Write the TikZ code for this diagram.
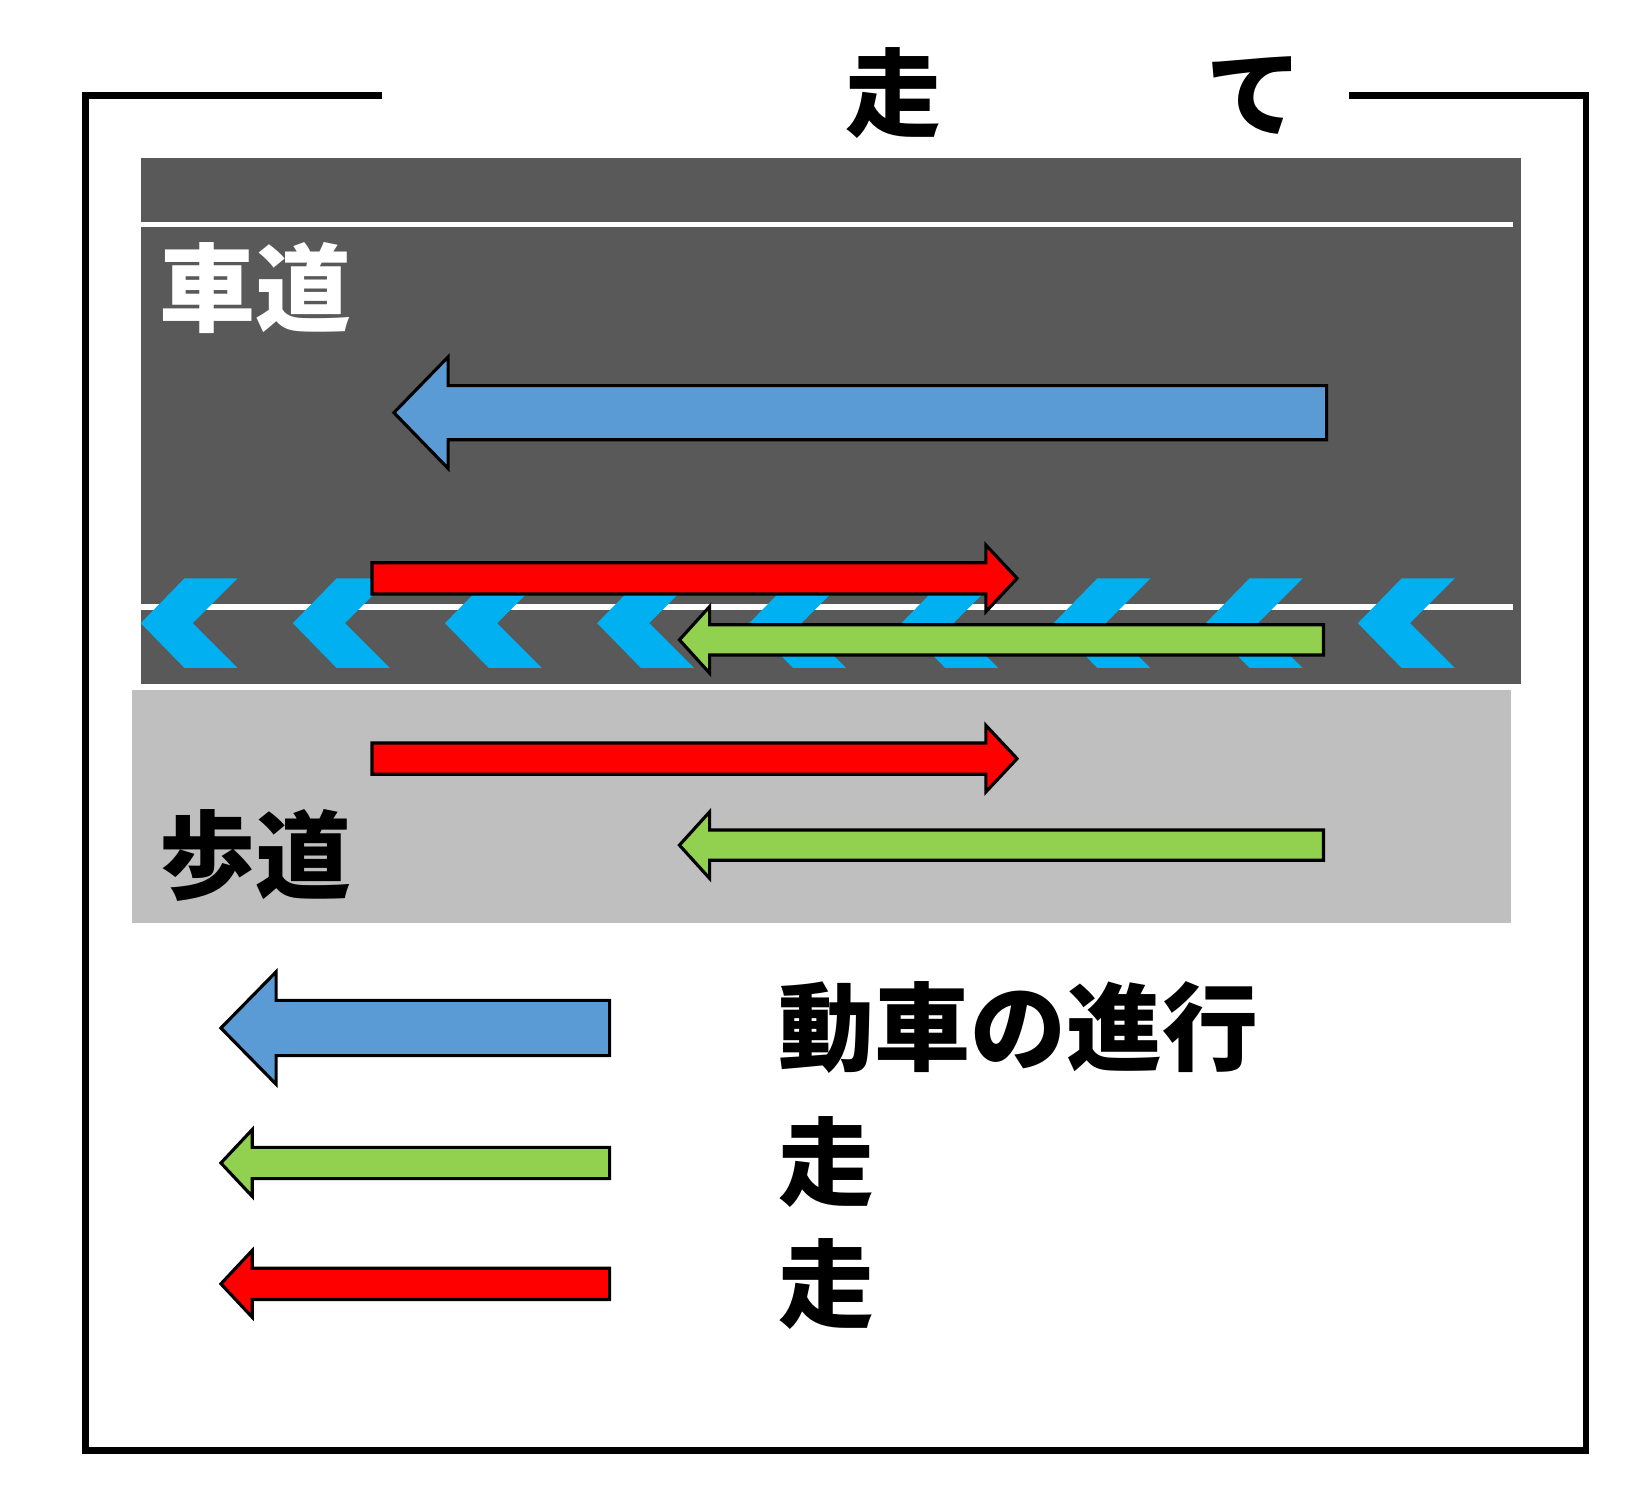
\documentclass[tikz,border=0pt]{standalone}
\usepackage{fontspec}
\newfontfamily\jp{Noto Sans CJK JP}
\definecolor{roadgray}{HTML}{595959}
\definecolor{walkgray}{HTML}{BFBFBF}
\definecolor{carblue}{HTML}{5B9BD5}
\definecolor{bikegreen}{HTML}{92D050}
\definecolor{bikered}{HTML}{FF0000}
\definecolor{chevcyan}{HTML}{00B0F0}
% block arrow: tail x, base x, tip x, centre y, shaft half, head half, colour
\newcommand{\myblockarrow}[7]{%
  \draw[arrowline,fill=#7] (#1,{#4-#5}) -- (#2,{#4-#5}) -- (#2,{#4-#6}) -- (#3,#4)
    -- (#2,{#4+#6}) -- (#2,{#4+#5}) -- (#1,{#4+#5}) -- cycle;}
\newcommand{\mychevron}[1]{%
  \fill[chevcyan] (#1,598) -- ({#1+42},555) -- ({#1+93},555) -- ({#1+50},598)
    -- ({#1+93},641) -- ({#1+42},641) -- cycle;}
\begin{document}
\begin{tikzpicture}[x=1pt,y=-1pt,
  arrowline/.style={draw=black,line width=3pt,line join=miter},
  jptext/.style={font={\jp\bfseries\fontsize{92}{92}\selectfont},inner sep=0pt},
  frameline/.style={line width=6.5pt,line cap=rect,line join=miter}]
\useasboundingbox (0,0) rectangle (1568,1435);
% frame
\draw[frameline] (363,92) -- (82,92) -- (82,1392) -- (1522,1392) -- (1522,92) -- (1298,92);
\node[jptext] (title1) at (857,89) {走};
\node[jptext] (title2) at (1204,92) {て};
% road
\fill[roadgray] (135,152) rectangle (1460,656);
\fill[white] (135,213) rectangle (1452,218);
\fill[white] (135,580) rectangle (1452,585);
\foreach \cx in {135,281,427,573,719,865,1011,1157,1303} {\mychevron{\cx}}
\node[jptext,text=white] (road) at (245,276) {車道};
\myblockarrow{1273}{430}{378}{396}{26}{53.5}{carblue}
\myblockarrow{357}{946}{976}{555}{15}{32}{bikered}
\myblockarrow{1270}{681}{652}{614}{14.5}{32}{bikegreen}
% sidewalk
\fill[walkgray] (127,662) rectangle (1450,886);
\node[jptext] (walk) at (245,821) {歩道};
\myblockarrow{357}{946}{976}{728}{15}{32}{bikered}
\myblockarrow{1270}{681}{652}{811}{14.5}{32}{bikegreen}
% legend
\myblockarrow{585}{265}{212}{986.5}{26.5}{54}{carblue}
\myblockarrow{585}{242}{212}{1116}{15}{32}{bikegreen}
\myblockarrow{585}{242}{212}{1232}{15}{32}{bikered}
\node[jptext,anchor=west] (lg1) at (747,986) {動車の進行};
\node[jptext,anchor=west] (lg2) at (747,1115) {走};
\node[jptext,anchor=west] (lg3) at (747,1232) {走};
\end{tikzpicture}
\end{document}
